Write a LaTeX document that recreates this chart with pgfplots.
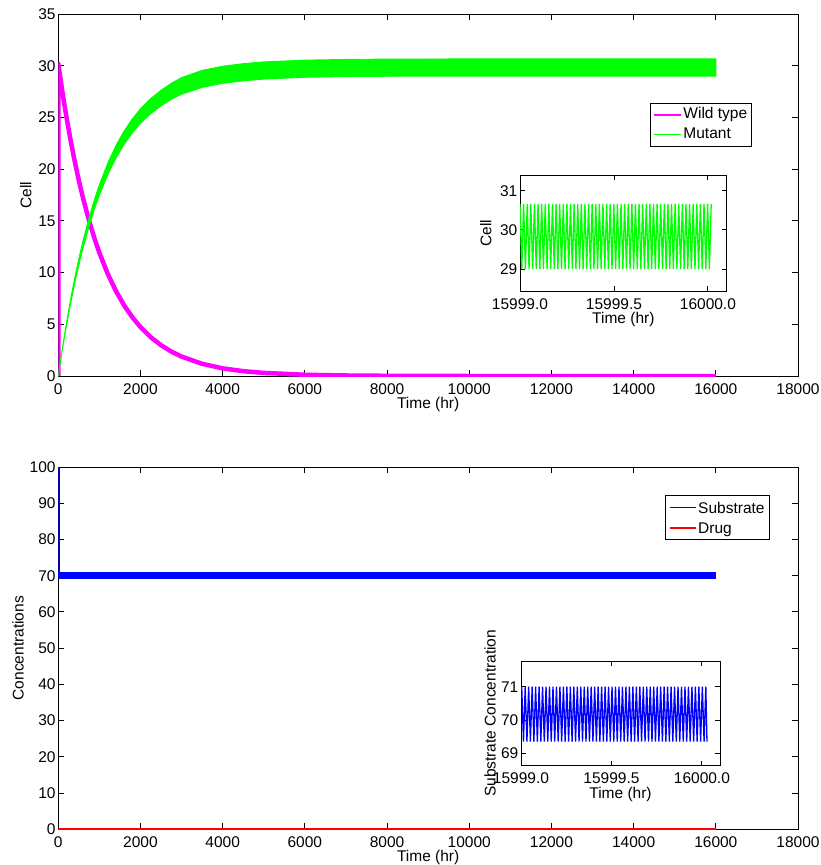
\documentclass[border=0pt]{standalone}
\usepackage{fontspec}
\setmainfont{Liberation Sans}
\usepackage{pgfplots}
\pgfplotsset{compat=1.18}
\usepackage{pgfplotstable}
\definecolor{mag}{RGB}{255,0,255}
\definecolor{grn}{RGB}{0,255,0}
\definecolor{blu}{RGB}{0,0,255}
\definecolor{rd}{RGB}{255,0,0}

\pgfplotsset{
  mystyle/.style={
    scale only axis,
    font=\fontsize{15.5}{18}\selectfont,
    /pgf/number format/assume math mode=true,
    axis line style={line width=0.9pt},
    every tick/.style={black, line width=0.9pt},
    tick align=inside,
    major tick length=6pt,
    scaled ticks=false,
    xticklabel style={inner sep=0pt, yshift=-7pt, /pgf/number format/1000 sep={}},
    yticklabel style={inner sep=0pt, xshift=-2.5pt},
    every axis x label/.style={at={(axis description cs:0.5,0)}, anchor=north, inner sep=0pt, yshift=-21pt},
    legend cell align=left,
  }
}

\pgfplotstableread{
x y
0.0000 30.66
0.0096 29.00
0.0192 30.66
0.0288 29.00
0.0384 30.66
0.0480 29.00
0.0576 30.66
0.0672 29.00
0.0768 30.66
0.0864 29.00
0.0960 30.66
0.1056 29.00
0.1152 30.66
0.1248 29.00
0.1344 30.66
0.1440 29.00
0.1536 30.66
0.1632 29.00
0.1728 30.66
0.1824 29.00
0.1920 30.66
0.2016 29.00
0.2112 30.66
0.2208 29.00
0.2304 30.66
0.2400 29.00
0.2496 30.66
0.2592 29.00
0.2688 30.66
0.2784 29.00
0.2880 30.66
0.2976 29.00
0.3072 30.66
0.3168 29.00
0.3264 30.66
0.3360 29.00
0.3456 30.66
0.3552 29.00
0.3648 30.66
0.3744 29.00
0.3840 30.66
0.3936 29.00
0.4032 30.66
0.4128 29.00
0.4224 30.66
0.4320 29.00
0.4416 30.66
0.4512 29.00
0.4608 30.66
0.4704 29.00
0.4800 30.66
0.4896 29.00
0.4992 30.66
0.5088 29.00
0.5184 30.66
0.5280 29.00
0.5376 30.66
0.5472 29.00
0.5568 30.66
0.5664 29.00
0.5760 30.66
0.5856 29.00
0.5952 30.66
0.6048 29.00
0.6144 30.66
0.6240 29.00
0.6336 30.66
0.6432 29.00
0.6528 30.66
0.6624 29.00
0.6720 30.66
0.6816 29.00
0.6912 30.66
0.7008 29.00
0.7104 30.66
0.7200 29.00
0.7296 30.66
0.7392 29.00
0.7488 30.66
0.7584 29.00
0.7680 30.66
0.7776 29.00
0.7872 30.66
0.7968 29.00
0.8064 30.66
0.8160 29.00
0.8256 30.66
0.8352 29.00
0.8448 30.66
0.8544 29.00
0.8640 30.66
0.8736 29.00
0.8832 30.66
0.8928 29.00
0.9024 30.66
0.9120 29.00
0.9216 30.66
0.9312 29.00
0.9408 30.66
0.9504 29.00
0.9600 30.66
0.9696 29.00
0.9792 30.66
0.9888 29.00
0.9984 30.66
1.0080 29.00
1.0176 30.66
}\insetcell

\pgfplotstableread{
x y
0.0040 71.00
0.0136 69.35
0.0232 71.00
0.0328 69.35
0.0424 71.00
0.0520 69.35
0.0616 71.00
0.0712 69.35
0.0808 71.00
0.0904 69.35
0.1000 71.00
0.1096 69.35
0.1192 71.00
0.1288 69.35
0.1384 71.00
0.1480 69.35
0.1576 71.00
0.1672 69.35
0.1768 71.00
0.1864 69.35
0.1960 71.00
0.2056 69.35
0.2152 71.00
0.2248 69.35
0.2344 71.00
0.2440 69.35
0.2536 71.00
0.2632 69.35
0.2728 71.00
0.2824 69.35
0.2920 71.00
0.3016 69.35
0.3112 71.00
0.3208 69.35
0.3304 71.00
0.3400 69.35
0.3496 71.00
0.3592 69.35
0.3688 71.00
0.3784 69.35
0.3880 71.00
0.3976 69.35
0.4072 71.00
0.4168 69.35
0.4264 71.00
0.4360 69.35
0.4456 71.00
0.4552 69.35
0.4648 71.00
0.4744 69.35
0.4840 71.00
0.4936 69.35
0.5032 71.00
0.5128 69.35
0.5224 71.00
0.5320 69.35
0.5416 71.00
0.5512 69.35
0.5608 71.00
0.5704 69.35
0.5800 71.00
0.5896 69.35
0.5992 71.00
0.6088 69.35
0.6184 71.00
0.6280 69.35
0.6376 71.00
0.6472 69.35
0.6568 71.00
0.6664 69.35
0.6760 71.00
0.6856 69.35
0.6952 71.00
0.7048 69.35
0.7144 71.00
0.7240 69.35
0.7336 71.00
0.7432 69.35
0.7528 71.00
0.7624 69.35
0.7720 71.00
0.7816 69.35
0.7912 71.00
0.8008 69.35
0.8104 71.00
0.8200 69.35
0.8296 71.00
0.8392 69.35
0.8488 71.00
0.8584 69.35
0.8680 71.00
0.8776 69.35
0.8872 71.00
0.8968 69.35
0.9064 71.00
0.9160 69.35
0.9256 71.00
0.9352 69.35
0.9448 71.00
0.9544 69.35
0.9640 71.00
0.9736 69.35
0.9832 71.00
0.9928 69.35
1.0024 71.00
1.0120 69.35
1.0216 71.00
1.0280 69.35
}\insetsub

\begin{document}
\begin{tikzpicture}
\useasboundingbox (0pt,0pt) rectangle (821pt,-865pt);

% ---------------- top main axis ----------------
\begin{axis}[mystyle,
  at={(58.3pt,-376pt)}, anchor=south west,
  width=739.7pt, height=362pt,
  xmin=0, xmax=18000, ymin=0, ymax=35,
  xtick={0,2000,...,18000}, ytick={0,5,...,35},
  xlabel={Time (hr)}, ylabel={Cell},
  ylabel style={at={(axis description cs:-0.036,0.5)}, anchor=south, inner sep=0pt},
  legend style={at={(0.938,0.755)}, anchor=north east, draw=black, line width=0.9pt,
    fill=white, inner sep=3pt, row sep=3pt,
    nodes={inner sep=1.5pt, text height=11pt, text depth=3pt}},
]
\addlegendimage{legend image code/.code={\draw[draw=mag, line width=2pt] (0pt,0pt) -- (27pt,0pt);}}
\addlegendentry{Wild type}
\addlegendimage{legend image code/.code={\draw[draw=grn, line width=1.2pt] (0pt,0pt) -- (27pt,0pt);}}
\addlegendentry{Mutant}
% Wild type (thick band)
\addplot[mag, line width=4.5pt, line join=round, forget plot] coordinates {
(0,0) (0,30.2) (100,27.45) (200,25.00) (300,22.78) (400,20.75) (500,18.90)
(600,17.23) (750,15.00) (900,13.06) (1000,11.91) (1200,9.90) (1400,8.23)
(1600,6.84) (1800,5.69) (2000,4.73) (2250,3.75) (2500,2.98) (2750,2.36)
(3000,1.88) (3500,1.18) (4000,0.74) (4500,0.47) (5000,0.30) (6000,0.12)
(7000,0.05) (8000,0.02) (10000,0.00) (16000,0.00)
};
% Mutant (oscillation envelope)
\addplot[grn, fill=grn, line width=0.9pt, line join=round, forget plot] coordinates {
(0,0) (100,2.71) (200,5.17) (300,7.42) (400,9.48) (500,11.35) (600,13.05)
(750,15.33) (900,17.31) (1000,18.49) (1200,20.55) (1400,22.26) (1600,23.68)
(1800,24.86) (2000,25.83) (2250,26.83) (2500,27.62) (2750,28.30) (3000,28.85)
(3500,29.55) (4000,29.95) (4500,30.20) (5000,30.37) (6000,30.54) (7000,30.61)
(8000,30.64) (10000,30.66) (16000,30.66)
(16000,29.00) (10000,29.00) (8000,28.98) (7000,28.95) (6000,28.88) (5000,28.71)
(4500,28.54) (4000,28.30) (3500,27.90) (3000,27.25) (2750,26.75) (2500,26.12)
(2250,25.37) (2000,24.43) (1800,23.50) (1600,22.39) (1400,21.04) (1200,19.43)
(1000,17.49) (900,16.37) (750,14.50) (600,12.34) (500,10.73) (400,8.96)
(300,7.02) (200,4.89) (100,2.56) (0,0)
} -- cycle;
\end{axis}

% ---------------- top inset ----------------
\begin{axis}[mystyle,
  at={(520pt,-291pt)}, anchor=south west,
  width=206.7pt, height=116pt,
  major tick length=5pt,
  axis background/.style={fill=white},
  xmin=0, xmax=1.1, ymin=28.44, ymax=31.4,
  xtick={0,0.5,1}, xticklabels={15999.0,15999.5,16000.0},
  ytick={29,30,31},
  xlabel={Time (hr)}, ylabel={Cell},
  ylabel style={at={(axis description cs:-0.137,0.5)}, anchor=south, inner sep=0pt},
]
\addplot[grn, line width=1.3pt] table[x=x,y=y] {\insetcell};
\end{axis}

% ---------------- bottom main axis ----------------
\begin{axis}[mystyle,
  at={(58.3pt,-829.3pt)}, anchor=south west,
  width=739.7pt, height=362.3pt,
  xmin=0, xmax=18000, ymin=0, ymax=100,
  xtick={0,2000,...,18000}, ytick={0,10,...,100},
  xlabel={Time (hr)}, ylabel={Concentrations},
  ylabel style={at={(axis description cs:-0.0464,0.5)}, anchor=south, inner sep=0pt},
]
% Substrate band
\addplot[blu, fill=blu, line width=0.9pt] coordinates {
(0,71.00) (16000,71.00) (16000,69.35) (0,69.35)
} -- cycle;
% Substrate initial drop
\addplot[blu, line width=3pt] coordinates {(0,100) (0,70.2)};
% Drug
\addplot[rd, line width=1.5pt] coordinates {(0,0.05) (16000,0.05)};
\end{axis}

% ---------------- bottom inset ----------------
\begin{axis}[mystyle,
  at={(521pt,-765.7pt)}, anchor=south west,
  width=199pt, height=104.7pt,
  major tick length=5pt,
  axis background/.style={fill=white},
  xmin=0, xmax=1.1, ymin=68.63, ymax=71.77,
  xtick={0,0.5,1}, xticklabels={15999.0,15999.5,16000.0},
  ytick={69,70,71},
  xlabel={Time (hr)}, ylabel={Substrate Concentration},
  ylabel style={at={(axis description cs:-0.1256,0.5)}, anchor=south, inner sep=0pt},
]
\addplot[blu, line width=1.3pt] table[x=x,y=y] {\insetsub};
\end{axis}

% ---------------- bottom legend (drawn as a key box) ----------------
\begin{scope}[font=\fontsize{15.5}{18}\selectfont]
\draw[black, line width=0.9pt, fill=white] (665.7pt,-495.7pt) rectangle (769pt,-539.3pt);
\draw[blu, line width=1.2pt] (670pt,-507.5pt) -- (696pt,-507.5pt);
\draw[rd, line width=1.2pt] (670pt,-528pt) -- (696pt,-528pt);
\node[anchor=base west, inner sep=0pt, text=black] at (698pt,-513pt) {Substrate};
\node[anchor=base west, inner sep=0pt, text=black] at (698pt,-533.5pt) {Drug};
\end{scope}
\end{tikzpicture}
\end{document}
